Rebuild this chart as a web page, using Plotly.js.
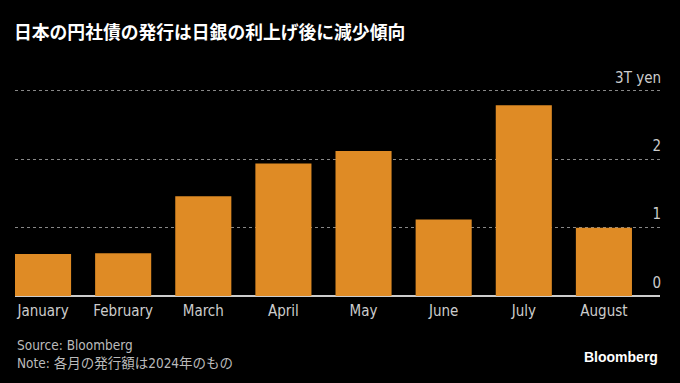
<!DOCTYPE html>
<html>
<head>
<meta charset="utf-8">
<script src="https://cdn.plot.ly/plotly-3.0.1.min.js"></script>
<style>
  html, body { margin: 0; padding: 0; background: #000; }
  #chart { width: 680px; height: 383px; }
</style>
</head>
<body>
<div id="chart"></div>
<script>
// Data (trillion yen, 2024)
const months = ["January", "February", "March", "April", "May", "June", "July", "August"];
const issuance = [0.615, 0.625, 1.46, 1.94, 2.12, 1.12, 2.79, 1.0];
const yTickVals = [0, 1, 2, 3];
const yTickText = ["0", "1", "2", "3T yen"];

const W = 680, H = 383;
const yMax = 3.35;
const mL = 14.7, mR = 20, mB = 87;
const pxPerUnit = 205 / 3;
const mT = H - mB - yMax * pxPerUnit;
const pw = W - mL - mR, ph = H - mT - mB;
const px2x = x => (x - mL) / pw;
const px2y = y => (H - mB - y) / ph;

const font = "'Liberation Sans Narrow', 'DejaVu Sans Condensed', 'Noto Sans CJK JP', sans-serif";

const trace = {
  type: "bar",
  x: months,
  y: issuance,
  width: 0.7,
  marker: { color: "#DF8B25", line: { width: 0 } },
  hoverinfo: "skip"
};

const layout = {
  width: W, height: H,
  paper_bgcolor: "#000",
  plot_bgcolor: "#000",
  margin: { l: mL, r: mR, t: mT, b: mB, pad: 0 },
  showlegend: false,
  bargap: 0.3,
  title: {
    text: "<b>日本の円社債の発行は日銀の利上げ後に減少傾向</b>",
    font: { family: "'Noto Sans CJK JP', sans-serif", size: 17.8, color: "#ffffff" },
    xref: "container", yref: "container",
    x: 14 / W, xanchor: "left",
    y: 1 - 33 / H, yanchor: "middle"
  },
  xaxis: {
    type: "category",
    range: [-0.35, 7.7],
    showgrid: false,
    zeroline: false,
    showline: false,
    ticks: "",
    ticklabelstandoff: 4,
    tickfont: { family: font, size: 15, color: "#cccccc" },
    fixedrange: true
  },
  yaxis: {
    range: [0, yMax],
    side: "right",
    tickvals: yTickVals,
    ticktext: yTickText,
    ticklabelposition: "inside top",
    ticklabelshift: -3,
    ticklabelstandoff: -4,
    tickfont: { family: font, size: 15, color: "#cccccc" },
    showgrid: true,
    gridcolor: "#888888",
    griddash: "dot",
    gridwidth: 1,
    zeroline: true,
    zerolinecolor: "#cccccc",
    zerolinewidth: 1.5,
    showline: false,
    ticks: "",
    fixedrange: true
  },
  annotations: [
    {
      text: "Source: Bloomberg",
      xref: "paper", yref: "paper",
      x: px2x(15), y: px2y(344.5),
      xanchor: "left", yanchor: "middle",
      showarrow: false,
      font: { family: font, size: 13.5, color: "#bbbbbb" }
    },
    {
      text: "Note: 各月の発行額は2024年のもの",
      xref: "paper", yref: "paper",
      x: px2x(15), y: px2y(362.5),
      xanchor: "left", yanchor: "middle",
      showarrow: false,
      font: { family: font, size: 13.5, color: "#bbbbbb" }
    },
    {
      text: "<b>Bloomberg</b>",
      xref: "paper", yref: "paper",
      x: px2x(660), y: px2y(357),
      xanchor: "right", yanchor: "middle",
      showarrow: false,
      font: { family: "'Liberation Sans', 'DejaVu Sans', sans-serif", size: 14, color: "#ffffff" }
    }
  ]
};

Plotly.newPlot("chart", [trace], layout, { staticPlot: true, displayModeBar: false });
</script>
</body>
</html>
